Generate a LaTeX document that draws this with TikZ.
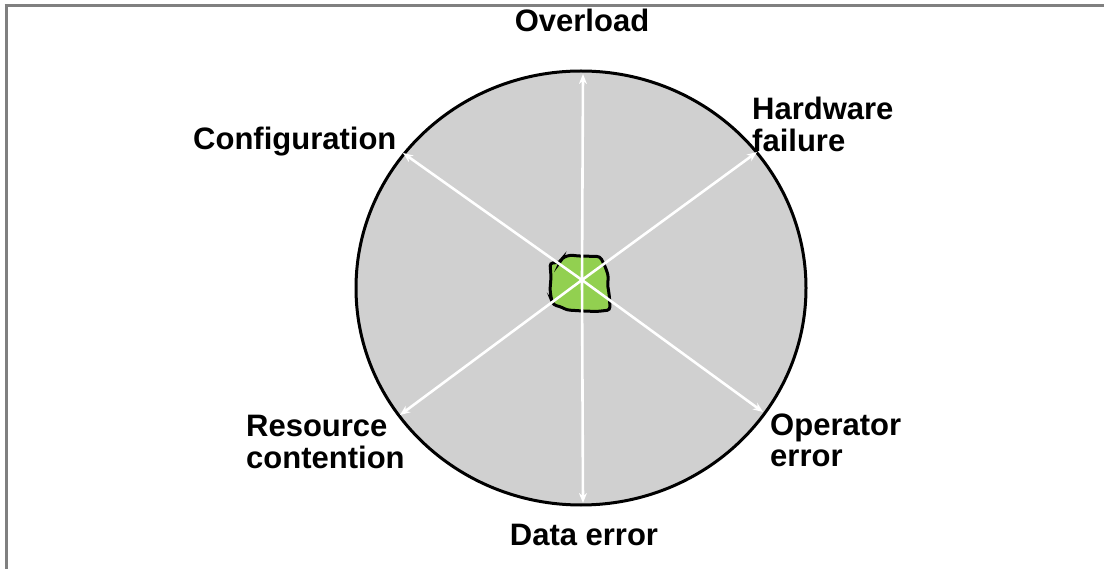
\documentclass[tikz,border=0pt]{standalone}
\usepackage{fontspec}
\setmainfont{Liberation Sans}
\usetikzlibrary{arrows.meta}
\definecolor{framegray}{RGB}{128,128,128}
\definecolor{discgray}{RGB}{208,208,208}
\definecolor{coregreen}{RGB}{146,208,80}
\tikzset{
  frameline/.style={draw=framegray, line width=3pt},
  disc/.style={fill=discgray, draw=black, line width=3pt},
  ray/.style={draw=white, line width=2.6pt, -{Stealth[length=10pt,width=8pt]}},
  lbl/.style={font=\fontsize{31}{32}\selectfont\bfseries, inner sep=0pt, align=left},
}
\begin{document}
\begin{tikzpicture}[x=1pt, y=-1pt]
  \useasboundingbox (0,0) rectangle (1104,569);
  % partial frame: top and left edges only
  \draw[frameline] (4.5,6) -- (1104,6);
  \draw[frameline] (6,4.5) -- (6,569);

  % the disc
  \draw[disc] (581,288) ellipse [x radius=225, y radius=217];

  % irregular core
  \draw[fill=coregreen, draw=black, line width=3pt, rounded corners=3pt]
    (550,263) -- (560,262.5) -- (562,258) -- (570,255) -- (578,256) -- (600,256.5)
    -- (603.5,263) -- (606.5,270) -- (608.5,277) -- (607.5,284) -- (609.5,297)
    -- (610,310) -- (597,311.5) -- (583,311) -- (567,310) -- (560,306.5)
    -- (553.5,305) -- (551.5,300) -- (550,290) -- (551,277) -- cycle;

  \coordinate (c) at (582,280);
  \coordinate (eN) at (583,74);
  \coordinate (eS) at (583,503);
  \coordinate (eNW) at (403,153);
  \coordinate (eNE) at (757,152);
  \coordinate (eSW) at (400,415);
  \coordinate (eSE) at (763,412);

  \foreach \e in {eN,eS,eNW,eNE,eSW,eSE}
    \draw[ray] (c) -- (\e);

  % labels (base anchor of a two-line label sits on its last line)
  \node[lbl, anchor=base] (lN) at (582,32) {Overload};
  \node[lbl, anchor=base west] (lNW) at (193,150) {Configuration};
  \node[lbl, anchor=base west] (lNE) at (752,152) {Hardware\\failure};
  \node[lbl, anchor=base west] (lSW) at (246,468) {Resource\\contention};
  \node[lbl, anchor=base west] (lSE) at (770,467) {Operator\\error};
  \node[lbl, anchor=base] (lS) at (584,545) {Data error};
\end{tikzpicture}
\end{document}
